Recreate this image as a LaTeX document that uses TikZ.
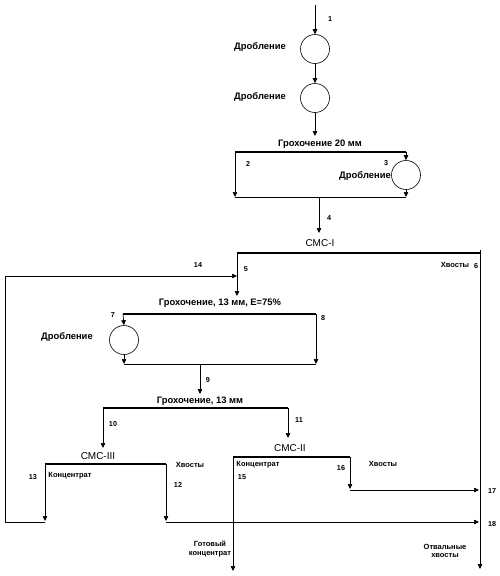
\documentclass[tikz,border=0pt]{standalone}
\usepackage{fontspec}
\setmainfont{Liberation Sans}
\usetikzlibrary{arrows.meta}

\tikzset{
  flow/.style={line width=0.7pt, -{Triangle[length=5pt,width=4.5pt]}},
  pipe/.style={line width=0.7pt},
  bar/.style={line width=2pt},
  crusher/.style={draw, line width=0.6pt, circle, minimum size=29pt, inner sep=0pt},
  opname/.style={font=\bfseries\fontsize{9.4}{10}\selectfont},
  smc/.style={font=\fontsize{10}{11}\selectfont},
  prod/.style={font=\bfseries\fontsize{7.5}{8.5}\selectfont},
  num/.style={font=\bfseries\fontsize{7.2}{8}\selectfont}
}

\begin{document}
\begin{tikzpicture}[x=1pt,y=-1pt]
\useasboundingbox (0,0) rectangle (500,576);
% Crushing, two stages
\coordinate (feed) at (315,5);
\node[crusher] (cr1) at (315,49) {};
\node[crusher] (cr2) at (315,98) {};
\node[opname] (t1) at (260,47) {Дробление};
\node[opname] (t2) at (260,97) {Дробление};
\node[num] (n1) at (330,19) {1};
\draw[flow] (feed) -- (cr1.north);
\draw[flow] (cr1.south) -- (cr2.north);
\coordinate (s1in) at (315,136);
\draw[flow] (cr2.south) -- (s1in);
% Screen 20 mm
\node[opname] (t3) at (320,144) {Грохочение 20 мм};
\coordinate (s1l) at (235,152);
\coordinate (s1r) at (406,152);
\draw[bar] (s1l) -- (s1r);
\node[crusher] (cr3) at (406,175) {};
\node[opname] (t4) at (365,176) {Дробление};
\node[num] (n2) at (248,164) {2};
\node[num] (n3) at (386,163) {3};
\coordinate (m1l) at (235,197);
\coordinate (m1r) at (406,197);
\coordinate (m1c) at (319,197);
\draw[flow] (s1r) -- (cr3.north);
\draw[flow] (s1l) -- (m1l);
\draw[flow] (cr3.south) -- (m1r);
\draw[pipe] (m1l) -- (m1r);
\coordinate (smc1in) at (319,233);
\draw[flow] (m1c) -- (smc1in);
\node[num] (n4) at (329,218) {4};
% SMC-I
\node[smc] (t5) at (320,243) {СМС-I};
\coordinate (smc1l) at (237,253);
\coordinate (smc1r) at (480,253);
\draw[bar] (smc1l) -- (smc1r);
\coordinate (tailtop) at (480,250);
\coordinate (tailend) at (480,569);
\draw[flow] (tailtop) -- (tailend);
\node[prod] (t6) at (455,265) {Хвосты};
\node[num] (n6) at (476,266) {6};
\coordinate (s2in) at (237,296);
\draw[flow] (smc1l) -- (s2in);
\node[num] (n5) at (246,269) {5};
% Recycle 14
\coordinate (r1) at (45,522);
\coordinate (r2) at (5,522);
\coordinate (r3) at (5,276);
\coordinate (r4) at (237,276);
\draw[flow] (r1) -- (r2) -- (r3) -- (r4);
\node[num] (n14) at (198,265) {14};
% Screen 13 mm, E=75%
\node[opname] (t7) at (220,303) {Грохочение, 13 мм, Е=75\%};
\coordinate (s2l) at (123,314);
\coordinate (s2r) at (316,314);
\draw[bar] (s2l) -- (s2r);
\node[crusher] (cr4) at (124,340) {};
\node[opname] (t8) at (67,337) {Дробление};
\node[num] (n7) at (113,315) {7};
\node[num] (n8) at (323,318) {8};
\coordinate (m2l) at (124,364);
\coordinate (m2r) at (316,364);
\coordinate (m2c) at (200,364);
\draw[flow] (s2l) -- (cr4.north);
\draw[flow] (cr4.south) -- (m2l);
\draw[flow] (s2r) -- (m2r);
\draw[pipe] (m2l) -- (m2r);
\coordinate (s3in) at (200,394);
\draw[flow] (m2c) -- (s3in);
\node[num] (n9) at (208,380) {9};
% Screen 13 mm
\node[opname] (t9) at (200,401) {Грохочение, 13 мм};
\coordinate (s3l) at (103,408);
\coordinate (s3r) at (288,408);
\draw[bar] (s3l) -- (s3r);
\coordinate (smc3in) at (103,448);
\coordinate (smc2in) at (288,438);
\draw[flow] (s3l) -- (smc3in);
\draw[flow] (s3r) -- (smc2in);
\node[num] (n10) at (113,424) {10};
\node[num] (n11) at (299,420) {11};
% SMC-III
\node[smc] (t10) at (98,456) {СМС-III};
\coordinate (smc3l) at (45,464);
\coordinate (smc3r) at (166,464);
\draw[bar] (smc3l) -- (smc3r);
\node[prod] (t11) at (70,476) {Концентрат};
\node[prod] (t12) at (190,465) {Хвосты};
\node[num] (n13) at (33,477) {13};
\node[num] (n12) at (178,485) {12};
\coordinate (j13) at (45,521);
\coordinate (j12) at (166,521);
\draw[flow] (smc3l) -- (j13);
\draw[flow] (smc3r) -- (j12);
\coordinate (t18a) at (166,522);
\coordinate (t18b) at (479,522);
\draw[flow] (t18a) -- (t18b);
\node[num] (n18) at (492,524) {18};
% SMC-II
\node[smc] (t13) at (290,448) {СМС-II};
\coordinate (smc2l) at (233,457);
\coordinate (smc2r) at (350,457);
\draw[bar] (smc2l) -- (smc2r);
\node[prod] (t14) at (258,465) {Концентрат};
\node[prod] (t15) at (383,464) {Хвосты};
\node[num] (n15) at (242,477) {15};
\node[num] (n16) at (341,468) {16};
\coordinate (concend) at (233,571);
\draw[flow] (smc2l) -- (concend);
\coordinate (j16) at (350,489);
\draw[flow] (smc2r) -- (j16);
\coordinate (t17a) at (350,490);
\coordinate (t17b) at (479,490);
\draw[flow] (t17a) -- (t17b);
\node[num] (n17) at (492,491) {17};
% Products
\node[prod, align=center] (t16) at (210,549) {Готовый\\концентрат};
\node[prod, align=center] (t17) at (445,551) {Отвальные\\хвосты};
\end{tikzpicture}
\end{document}
